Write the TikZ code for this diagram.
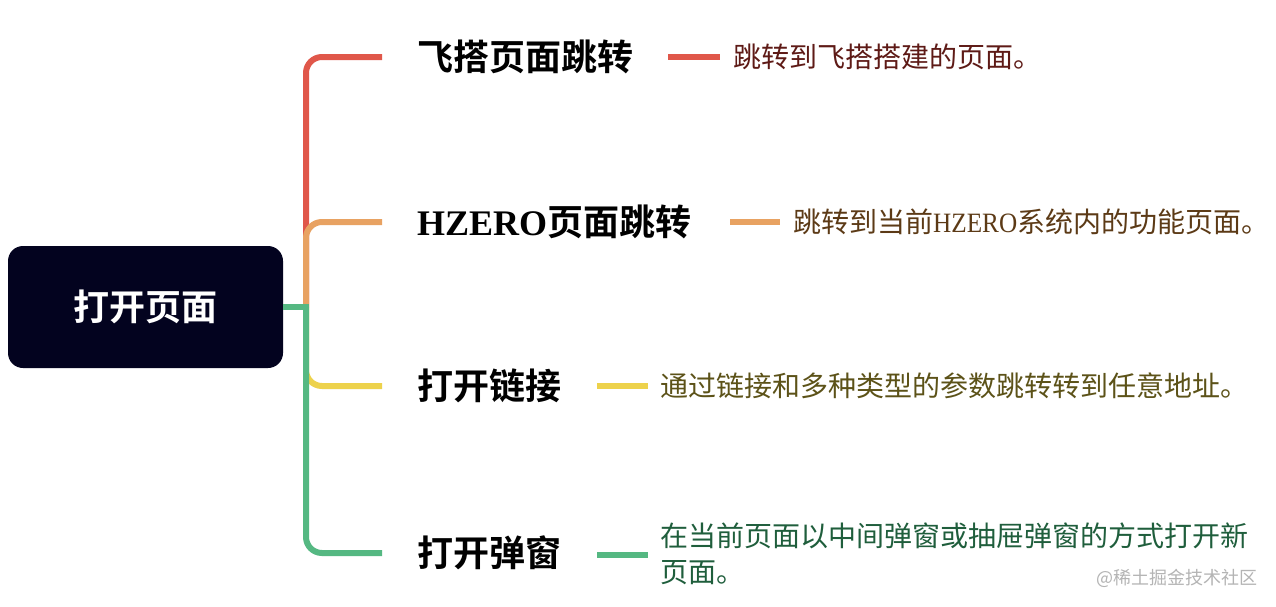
\documentclass[tikz,border=0pt]{standalone}
\usepackage{fontspec}
\newfontfamily\cjk{Noto Sans CJK SC}[BoldFont={Noto Sans CJK SC Bold}]
\newfontfamily\lserif{Liberation Serif}
\newfontfamily\lserifn{Liberation Serif}[FakeStretch=0.9]
\definecolor{rootfill}{HTML}{03031F}
\definecolor{cred}{HTML}{E0574A}
\definecolor{corange}{HTML}{E8A262}
\definecolor{cyellow}{HTML}{EDD24C}
\definecolor{cgreen}{HTML}{55B882}
\definecolor{dred}{HTML}{5E1A16}
\definecolor{dbrown}{HTML}{5C3A16}
\definecolor{dolive}{HTML}{5C5218}
\definecolor{dgreen}{HTML}{1F5E3C}
\definecolor{wmark}{HTML}{B4B4B4}
\begin{document}
\begin{tikzpicture}[x=1pt,y=-1pt,
  conn/.style={line width=6pt,rounded corners=16pt},
  shortln/.style={line width=6pt},
  title/.style={anchor=west,inner sep=0pt,font=\cjk\bfseries\fontsize{36}{40}\selectfont,text=black},
  desc/.style={anchor=west,inner sep=0pt,font=\cjk\fontsize{28}{36}\selectfont,align=left}]
\useasboundingbox[fill=white] (0,0) rectangle (1276,606);
\node[fill=rootfill,rounded corners=15pt,minimum width=275pt,minimum height=122pt,inner sep=0pt,
  text=white,font=\cjk\bfseries\fontsize{36}{40}\selectfont] (root) at (145.5,307) {打开页面};
\coordinate (br) at (306,307);
\node[title] (t1) at (417,57) {飞搭页面跳转};
\node[title] (t2) at (417,222) {{\lserif\bfseries HZERO}页面跳转};
\node[title] (t3) at (417,386) {打开链接};
\node[title] (t4) at (417,553) {打开弹窗};
\node[desc,text=dred] (d1) at (733,57) {跳转到飞搭搭建的页面。};
\node[desc,text=dbrown] (d2) at (793,222) {跳转到当前{\lserifn HZERO}系统内的功能页面。};
\node[desc,text=dolive] (d3) at (660,386) {通过链接和多种类型的参数跳转转到任意地址。};
\node[desc,text=dgreen] (d4) at (660,554) {在当前页面以中间弹窗或抽屉弹窗的方式打开新\\页面。};
\node[anchor=east,inner sep=0pt,text=wmark,font=\cjk\fontsize{18}{20}\selectfont] (wm) at (1258,578) {@稀土掘金技术社区};
% branch connectors
\draw[conn,cred] (br) |- ([xshift=-35pt]t1.west);
\draw[conn,corange] (br) |- ([xshift=-35pt]t2.west);
\draw[conn,cyellow] (br) |- ([xshift=-35pt]t3.west);
\draw[conn,cgreen] (br) |- ([xshift=-35pt]t4.west);
\draw[shortln,cgreen] (root.east) -- ([xshift=3pt]br);
% short lines to descriptions
\draw[shortln,cred] ([xshift=-65pt]d1.west) -- ([xshift=-13pt]d1.west);
\draw[shortln,corange] ([xshift=-63pt]d2.west) -- ([xshift=-13pt]d2.west);
\draw[shortln,cyellow] ([xshift=-63pt]d3.west) -- ([xshift=-12pt]d3.west);
\draw[shortln,cgreen] ([xshift=-63pt,yshift=-1pt]d4.west) -- ([xshift=-12pt,yshift=-1pt]d4.west);
\end{tikzpicture}
\end{document}
